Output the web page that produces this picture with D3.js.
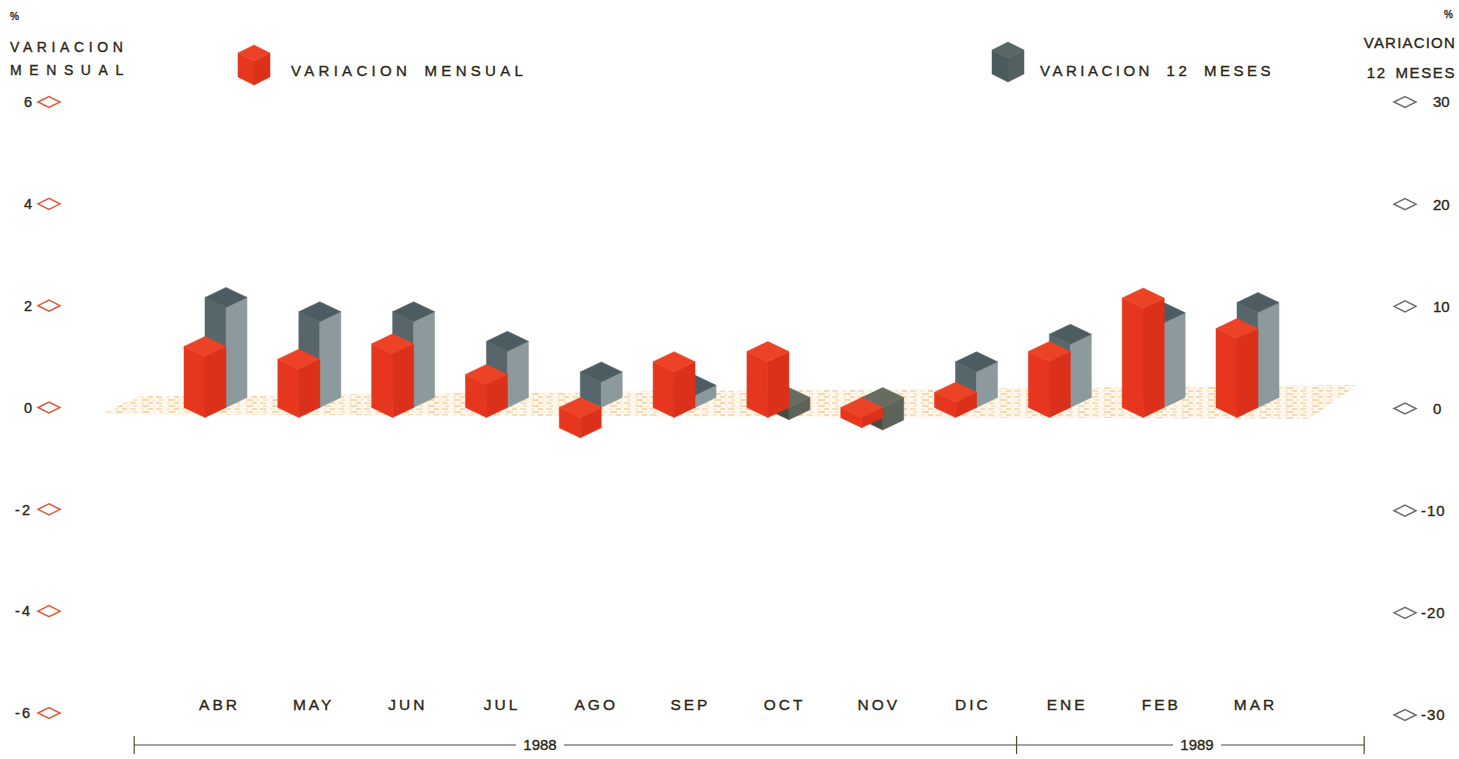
<!DOCTYPE html>
<html><head><meta charset="utf-8">
<script src="https://cdn.jsdelivr.net/npm/d3@7"></script>
<style>body{margin:0;background:#fff}svg{display:block}text{stroke:#2a2515;stroke-width:0.35px}</style>
</head><body><svg id="c" width="1459" height="759"></svg>
<script>
const months = ["ABR","MAY","JUN","JUL","AGO","SEP","OCT","NOV","DIC","ENE","FEB","MAR"];
const monthly = [1.2,0.95,1.25,0.65,-0.4,0.9,1.1,-0.2,0.3,1.1,2.15,1.55];
const twelveMonths = [9.8,8.4,8.4,5.5,2.5,1.2,-1.2,-2.2,3.5,6.2,8.3,9.3];
const leftTicks = [6,4,2,0,-2,-4,-6];
const rightTicks = [30,20,10,0,-10,-20,-30];
const years = ["1988","1989"];

const svg = d3.select("#c");
const font = "'Liberation Sans', Arial, sans-serif";
const txt = "#2a2515";

const yL = d3.scaleLinear().domain([-6,6]).range([713,102]);
const yR = d3.scaleLinear().domain([-30,30]).range([715,102]);
const xBar = d3.scalePoint().domain(months).range([205,1237]);
const xLab = d3.scalePoint().domain(months).range([218,1254]);

const W = 21, D = 10;
function box(g, cx, yBase, h, w, d, col){
  let yTop, yBot;
  if (h >= 0){ yTop = yBase - h; yBot = yBase; } else { yTop = yBase; yBot = yBase - h; }
  const poly = pts => pts.map(p=>p.join(",")).join(" ");
  g.append("polygon").attr("points", poly([[cx-w,yTop],[cx,yTop+d],[cx,yBot+d],[cx-w,yBot]])).attr("fill", col.left).attr("stroke",col.left).attr("stroke-width",0.5);
  g.append("polygon").attr("points", poly([[cx,yTop+d],[cx+w,yTop],[cx+w,yBot],[cx,yBot+d]])).attr("fill", col.right).attr("stroke",col.right).attr("stroke-width",0.5);
  g.append("polygon").attr("points", poly([[cx-w,yTop],[cx,yTop-d],[cx+w,yTop],[cx,yTop+d]])).attr("fill", col.top).attr("stroke",col.top).attr("stroke-width",0.5);
}
const redCol = {left:"#e6361e", right:"#db311b", top:"#ec4226"};
const grayCol = {left:"#56666b", right:"#8c999d", top:"#4d5c61"};
const grayNegCol = {left:"#474c43", right:"#5d6358", top:"#666c60"};

// pattern for floor
const defs = svg.append("defs");
const pat = defs.append("pattern").attr("id","floor").attr("patternUnits","userSpaceOnUse")
  .attr("width",26).attr("height",6);
pat.append("rect").attr("width",26).attr("height",6).attr("fill","#fef6ea");
[[0,1,6,"#f2c07e"],[11,1,3,"#f7d7a8"],[18,1,5,"#edb369"],[3,4,4,"#f5cd95"],[12,4,7,"#f0b870"],[23,4,2,"#f8dcb2"]]
  .forEach(([x,y,l,c])=>pat.append("line").attr("x1",x).attr("x2",x+l).attr("y1",y).attr("y2",y)
    .attr("stroke",c).attr("stroke-width",1.1));

svg.append("polygon").attr("points","100,414 140,396 1357,385 1310,419").attr("fill","url(#floor)").attr("opacity",0.85);

// bars
const gBars = svg.append("g");
months.forEach((m,i)=>{
  const base0 = yL(0);
  const gh = yR(0) - yR(twelveMonths[i]);
  box(gBars, xBar(m) + W, base0 - D, gh, W, D, twelveMonths[i] < 0 ? grayNegCol : grayCol);
  const rh = yL(0) - yL(monthly[i]);
  box(gBars, xBar(m), base0, rh, W, D, redCol);
});

// axes
const diamond = (g, cx, cy, stroke) => g.append("polygon")
  .attr("points", `${cx-11},${cy} ${cx},${cy-5.5} ${cx+11},${cy} ${cx},${cy+5.5}`)
  .attr("fill","#fff").attr("stroke",stroke).attr("stroke-width",1.5);
const gl = svg.append("g");
leftTicks.forEach(v=>{
  diamond(gl, 49, yL(v), "#e0583a");
  gl.append("text").attr("x",32).attr("y",yL(v)).attr("dy","0.36em").attr("text-anchor","end")
    .attr("font-family",font).attr("font-size",14.5).attr("fill",txt).attr("letter-spacing",v<0?2:0)
    .text(v);
});
const gr = svg.append("g");
rightTicks.forEach(v=>{
  diamond(gr, 1405, yR(v), "#6d6d6d");
  gr.append("text").attr("x", v<0 ? 1421 : 1433).attr("y",yR(v)).attr("dy","0.36em")
    .attr("font-family",font).attr("font-size",15).attr("fill",txt).attr("letter-spacing",v<0?1:0)
    .text(v);
});

// headers
svg.append("text").attr("x",10).attr("y",20).attr("font-family",font).attr("font-size",10).attr("fill",txt).text("%");
svg.append("text").attr("x",10).attr("y",52).attr("font-family",font).attr("font-size",14).attr("fill",txt).attr("letter-spacing",4.6).text("VARIACION");
svg.append("text").attr("x",10).attr("y",75).attr("font-family",font).attr("font-size",14).attr("fill",txt).attr("letter-spacing",7.6).text("MENSUAL");
svg.append("text").attr("x",1453).attr("y",18).attr("text-anchor","end").attr("font-family",font).attr("font-size",10).attr("fill",txt).text("%");
svg.append("text").attr("x",1456).attr("y",48).attr("text-anchor","end").attr("font-family",font).attr("font-size",15).attr("fill",txt).attr("letter-spacing",1.2).text("VARIACION");
svg.append("text").attr("x",1456).attr("y",78).attr("text-anchor","end").attr("font-family",font).attr("font-size",15).attr("fill",txt).attr("letter-spacing",1.6).attr("word-spacing",3).text("12 MESES");

// legend
box(svg.append("g"), 254, 77, 24, 16, 8, redCol);
svg.append("text").attr("x",291).attr("y",76).attr("font-family",font).attr("font-size",15).attr("fill",txt)
  .attr("letter-spacing",4.3).attr("word-spacing",5).text("VARIACION MENSUAL");
box(svg.append("g"), 1008, 74, 24, 16, 8, {left:"#4a5b5c", right:"#52605f", top:"#576766"});
svg.append("text").attr("x",1040).attr("y",76).attr("font-family",font).attr("font-size",15).attr("fill",txt)
  .attr("letter-spacing",3.5).attr("word-spacing",6).text("VARIACION 12 MESES");

// month labels
svg.append("g").selectAll("text").data(months).join("text")
  .attr("x", d=>xLab(d)+1.5).attr("y",710).attr("text-anchor","middle")
  .attr("font-family",font).attr("font-size",15.5).attr("fill",txt).attr("letter-spacing",3)
  .text(d=>d);

// year axis
const step = xLab.step();
const yy = 745;
const bounds = [xLab("ABR") - 0.89*step, (xLab("DIC")+xLab("ENE"))/2 - 2, xLab("MAR") + 1.17*step];
const gy = svg.append("g").attr("stroke","#4f4a30").attr("stroke-width",1.2);
gy.append("line").attr("x1",bounds[0]).attr("x2",bounds[2]).attr("y1",yy).attr("y2",yy);
bounds.forEach(b=>gy.append("line").attr("x1",b).attr("x2",b).attr("y1",yy-9).attr("y2",yy+9));
years.forEach((yname,i)=>{
  const cx = i===0 ? 540 : 1197;
  svg.append("rect").attr("x",cx-24).attr("y",yy-9).attr("width",48).attr("height",18).attr("fill","#fff").attr("stroke","none");
  svg.append("text").attr("x",cx).attr("y",yy).attr("dy","0.36em").attr("text-anchor","middle")
    .attr("font-family",font).attr("font-size",15).attr("fill",txt).text(yname);
});
</script></body></html>
